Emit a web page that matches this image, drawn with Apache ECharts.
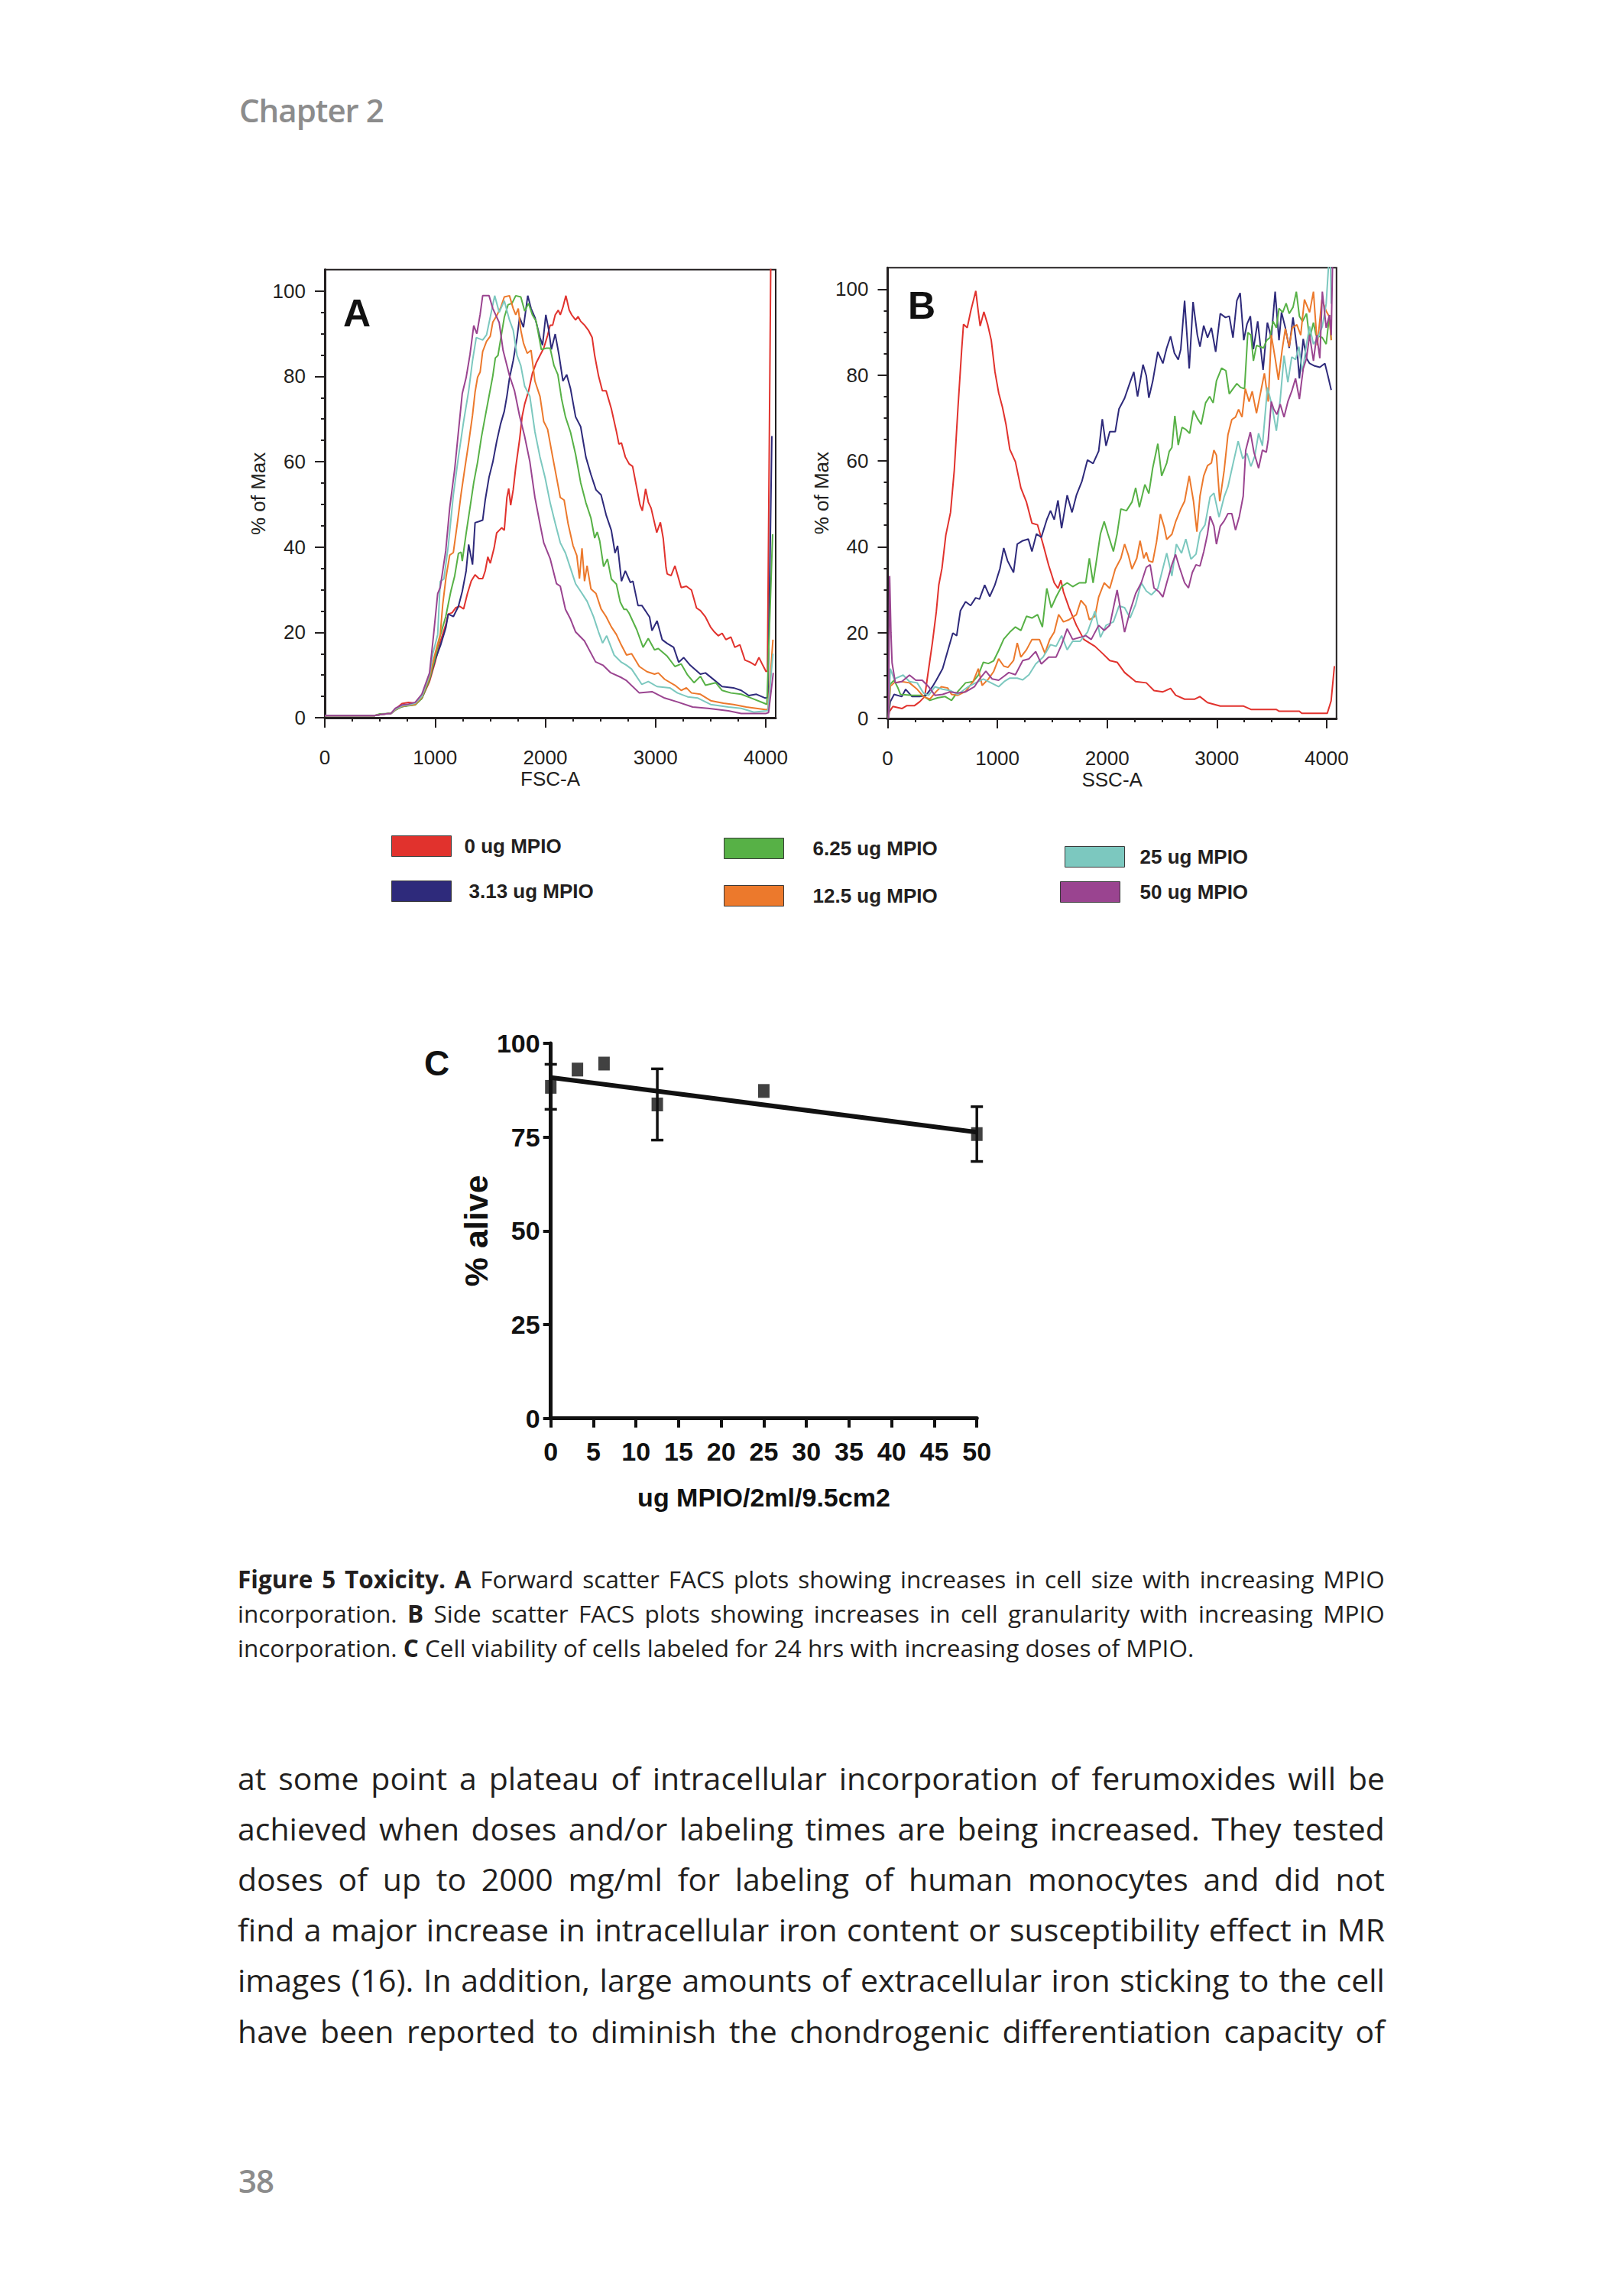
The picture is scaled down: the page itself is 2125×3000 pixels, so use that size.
<!DOCTYPE html>
<html>
<head>
<meta charset="utf-8">
<script src="https://cdn.jsdelivr.net/npm/echarts@6.0.0/dist/echarts.min.js"></script>
<style>
  html, body { margin:0; padding:0; background:#ffffff; }
  body { width:2125px; height:3000px; position:relative; overflow:hidden; }
  #chart { position:absolute; left:0; top:0; width:2125px; height:3000px; }
  .txt { position:absolute; font-family:'Open Sans','Noto Sans',sans-serif; color:#231f20; white-space:nowrap; line-height:1; }
  .just { display:flex; justify-content:space-between; align-items:baseline; }
  .just span { line-height:1; }
  .gray { color:#8c8c8c; font-weight:600; font-size:42px; letter-spacing:-1px; }
  .cap { font-size:31.5px; }
  .body { font-size:41px; }
  b { font-weight:700; }
</style>
</head>
<body>
<div id="chart"></div>
<div id="texts"></div>
<script>
// ---------------- DATA ----------------
const doseLabels = ['0 ug MPIO','3.13 ug MPIO','6.25 ug MPIO','12.5 ug MPIO','25 ug MPIO','50 ug MPIO'];

// Panel A: forward scatter (FSC-A) histograms, % of Max
const fsc0 = [[0,0.5],[250,0.5],[450,0.5],[520,0.8],[600,1.0],[640,2.0],[700,3.3],[760,3.6],[820,3.4],[880,4.5],[950,8.5],[1000,13],[1050,18],[1100,22],[1120,24.3],[1155,24.6],[1189,25.8],[1224,26.1],[1259,25.5],[1294,29.1],[1328,32],[1363,33.5],[1398,32.6],[1432,32.6],[1455,34.4],[1479,37.7],[1501,36.2],[1536,39.8],[1559,43.3],[1582,43.9],[1605,44.5],[1628,43.9],[1652,51.6],[1668,53.7],[1686,49.8],[1709,53.4],[1732,58.7],[1767,65.2],[1790,70.6],[1813,73.5],[1848,76.5],[1883,80.7],[1917,83.1],[1952,84.9],[1986,86.6],[2021,89.6],[2044,92],[2067,92],[2090,94.4],[2118,95.5],[2136,94.4],[2160,96.2],[2187,98.9],[2217,95.5],[2240,94.4],[2275,93.2],[2298,94],[2321,92.9],[2356,92],[2391,90.8],[2425,89.1],[2448,84.9],[2483,80.1],[2518,76.6],[2552,76.6],[2599,72.4],[2645,67.1],[2668,64.1],[2691,64.4],[2726,61.1],[2760,59.5],[2792,58.9],[2859,49.9],[2880,48.5],[2910,53.6],[2935,50.5],[2960,49.1],[3011,43.4],[3044,45.8],[3070,42],[3095,35.2],[3106,33.7],[3141,33.3],[3176,35.6],[3233,30.5],[3280,30.8],[3326,29.9],[3372,25.7],[3407,25.1],[3453,23.6],[3500,21.2],[3534,20.1],[3569,19.2],[3604,19.8],[3638,18.3],[3684,18.9],[3719,16.5],[3765,17.1],[3811,13.5],[3858,13.0],[3904,12.3],[3938,14.1],[3973,12.3],[4003,10.8],[4015,11],[4045,106]];
const fsc313 = [[0,0.5],[250,0.5],[450,0.5],[520,0.8],[600,1.0],[640,1.8],[700,2.6],[760,2.9],[820,3.1],[880,4.6],[950,9],[1000,13.5],[1050,17],[1097,21],[1120,24.3],[1166,23.7],[1212,26.1],[1247,29.6],[1282,34.4],[1305,40.6],[1340,35.9],[1363,45.7],[1398,46],[1432,46.3],[1455,51],[1490,56.4],[1524,59.9],[1559,64.7],[1594,68.8],[1628,71.8],[1652,75.4],[1675,79.5],[1709,83.7],[1744,89.1],[1767,93.8],[1802,91.5],[1841,98.9],[1871,95.9],[1906,93.8],[1952,89.1],[1975,87.3],[2005,94.4],[2032,90.8],[2055,86.3],[2090,89.9],[2125,84.9],[2160,78.9],[2194,80.4],[2229,77.1],[2275,70.5],[2321,68.2],[2368,61.1],[2414,57],[2460,53.4],[2506,52.2],[2552,47.5],[2599,43.9],[2633,38.6],[2656,40.3],[2691,32],[2726,34.4],[2772,31.7],[2795,32],[2841,26.3],[2876,26.3],[2946,23.6],[2968,20.4],[3014,22.7],[3060,18.3],[3106,17.4],[3164,16.5],[3210,13],[3256,14.1],[3314,12.3],[3407,10.2],[3453,10.5],[3534,8.8],[3604,7.3],[3707,7.0],[3777,6.4],[3846,5.2],[3915,5.5],[3996,4.6],[4020,4.8],[4055,66]];
const fsc625 = [[0,0.5],[250,0.5],[450,0.5],[500,0.9],[600,1.0],[640,1.8],[700,2.6],[760,2.8],[820,3.0],[880,4.5],[950,9],[1000,14],[1050,19.5],[1097,23.7],[1143,29.6],[1178,33.2],[1212,38.5],[1236,38.8],[1247,36.7],[1282,43.2],[1317,49.2],[1351,55.1],[1386,59.9],[1421,65.8],[1455,70.6],[1490,75.4],[1524,80.1],[1547,84.3],[1571,84.9],[1594,88.5],[1628,93.8],[1663,96.8],[1698,97.1],[1732,98.9],[1778,98.6],[1813,95.3],[1848,97.1],[1883,94.4],[1917,92.9],[1964,86.3],[2010,86.6],[2044,86.6],[2079,82.5],[2114,80.4],[2148,74.7],[2183,70.5],[2229,66.9],[2275,61.7],[2321,55.1],[2368,50.4],[2414,46.8],[2448,42.1],[2471,43.5],[2494,41.4],[2529,35.4],[2564,37.2],[2599,32.5],[2645,31.3],[2680,27.1],[2714,25.4],[2737,25.4],[2760,24.5],[2830,20.6],[2887,16.5],[2934,18.6],[2991,15.9],[3025,16.2],[3106,14.4],[3176,12.0],[3233,12.6],[3291,10.0],[3349,8.2],[3407,9.7],[3453,7.6],[3546,8.2],[3604,6.4],[3684,5.8],[3777,5.5],[3869,4.6],[3985,3.4],[4010,3.1],[4062,43]];
const fsc125 = [[0,0.5],[250,0.5],[450,0.5],[520,0.8],[600,1.0],[640,1.9],[700,2.7],[760,2.9],[820,3.1],[880,4.8],[950,9.5],[1000,15],[1047,19.5],[1070,26.6],[1100,33],[1133,38.1],[1166,38.7],[1201,45.3],[1236,52.4],[1270,58.4],[1305,64.4],[1340,70.9],[1363,76.3],[1386,79.8],[1409,81],[1432,85.8],[1467,88.2],[1501,89.4],[1524,92.7],[1559,94.2],[1594,96],[1628,98.6],[1675,98.9],[1709,95.9],[1732,94.4],[1755,95.9],[1778,90.8],[1802,87.8],[1836,85.4],[1871,86.1],[1906,78.9],[1952,75.3],[1986,69.4],[2021,67.6],[2067,61.1],[2102,56.3],[2136,51.6],[2171,51],[2206,45.6],[2252,40.3],[2286,38],[2310,32.6],[2333,39.7],[2356,32],[2379,35.6],[2414,30.2],[2460,29.1],[2506,25.5],[2552,23.7],[2599,21.3],[2645,19.5],[2690,17],[2737,14.7],[2783,15],[2853,12.0],[2922,10.8],[2991,10.2],[3025,10.5],[3083,9.0],[3176,7.6],[3233,6.4],[3280,7.0],[3326,5.8],[3407,5.5],[3500,4.0],[3615,3.4],[3707,3.1],[3823,2.5],[4003,1.9],[4020,2.0],[4065,18.3]];
const fsc25 = [[0,0.5],[250,0.5],[450,0.5],[520,0.8],[600,1.0],[640,2.0],[700,2.8],[760,3.0],[820,3.4],[880,5],[950,10],[980,15],[1024,19.5],[1047,31.9],[1080,32.5],[1120,40.3],[1166,52.2],[1212,61.1],[1259,69.4],[1305,76.6],[1340,83.7],[1374,89.1],[1432,88.5],[1467,89.7],[1501,93.9],[1541,98.9],[1582,95],[1628,97.7],[1675,93.2],[1709,90.8],[1744,84.9],[1778,82.5],[1813,77.7],[1860,75.3],[1906,67],[1952,61.1],[1998,56.3],[2044,50.4],[2090,45.6],[2136,41],[2183,38.6],[2229,35],[2275,31.4],[2321,29.6],[2379,27.3],[2437,23.7],[2483,20.1],[2520,17.5],[2557,19.2],[2624,14.7],[2690,13],[2737,12.3],[2783,11.4],[2876,7.8],[2934,8.5],[3014,7.3],[3129,7.0],[3199,5.8],[3291,4.9],[3384,4.6],[3500,3.1],[3661,2.5],[3777,2.2],[3892,1.3],[4003,1.6],[4020,1.7],[4065,15]];
const fsc50 = [[0,0.5],[250,0.5],[450,0.5],[520,0.8],[600,1.0],[640,2.2],[700,3.0],[760,3.2],[820,3.6],[880,5.5],[950,10.5],[987,19.5],[1024,29.1],[1047,30.5],[1097,39.1],[1133,49.2],[1178,58.2],[1212,67],[1247,76.0],[1282,79.7],[1317,85.1],[1351,91.9],[1379,90],[1409,94.5],[1432,98.9],[1462,98.9],[1490,98.9],[1524,95.9],[1582,92.6],[1617,86.1],[1675,80.2],[1721,76.6],[1767,70.7],[1813,65.9],[1860,60],[1906,51.6],[1952,45.4],[1986,41],[2044,37.3],[2102,31.4],[2136,30.8],[2183,25.4],[2229,23.1],[2275,20.1],[2355,18],[2456,13.1],[2523,12.3],[2590,10.6],[2691,9.4],[2737,8.7],[2853,5.8],[2968,6.1],[3083,4.6],[3199,3.7],[3337,2.5],[3476,2.2],[3661,1.6],[3777,1.0],[4003,1.0],[4025,1.2],[4068,10.5]];

// Panel B: side scatter (SSC-A) histograms, % of Max
const ssc0 = [[8,0],[14,1.5],[24,1.9],[48,2.8],[129,2.3],[176,3.0],[245,3.0],[292,3.9],[338,5.1],[361,9.3],[408,17.7],[443,24.8],[466,31.1],[495,35],[530,42.7],[573,48],[607,57.8],[641,72.5],[674,85.7],[691,91.8],[725,91],[759,95.1],[803,99.6],[826,94.7],[843,91.4],[877,94.7],[911,91.8],[944,88.1],[978,80.7],[1012,75.8],[1046,72.5],[1079,68.4],[1113,62.7],[1164,59.8],[1214,53.7],[1265,50.4],[1315,45.5],[1366,45.1],[1416,40.6],[1467,35.7],[1518,31.6],[1552,30.3],[1579,32.2],[1602,29.5],[1653,25.8],[1720,21.7],[1788,18.4],[1889,16.8],[1956,15.2],[2024,13.5],[2091,13.1],[2159,10.7],[2260,8.6],[2357,8.3],[2427,6.5],[2508,6.2],[2578,7.0],[2625,5.4],[2706,4.5],[2799,4.5],[2845,5.1],[2915,3.7],[3031,2.9],[3240,2.9],[3310,2.1],[3542,2.1],[3565,1.7],[3751,1.7],[3774,1.2],[4006,1.2],[4041,4.1],[4071,12.2]];
const ssc313 = [[8,0],[14,2],[24,3.9],[59,5.6],[129,5.1],[164,6.8],[222,5.1],[292,5.1],[350,5.4],[408,7.4],[443,8.9],[501,11.6],[547,15.7],[594,19.9],[629,19.3],[663,25.1],[710,27.2],[756,26.3],[802,28.1],[837,27.8],[884,31.1],[930,28.4],[977,31.1],[1023,34.9],[1058,39.7],[1093,36.7],[1147,34],[1181,40.6],[1231,41.4],[1282,41.8],[1315,38.9],[1356,43],[1400,42.2],[1450,46.3],[1484,48.4],[1518,46.3],[1552,50.8],[1585,44.3],[1636,52],[1680,48],[1720,52],[1771,55.3],[1821,60.2],[1872,59.4],[1923,62.3],[1956,69.7],[1990,63.5],[2024,66.8],[2074,66.8],[2108,72.1],[2159,74.6],[2209,78.3],[2243,80.7],[2277,75],[2327,82.4],[2357,79.8],[2380,74.7],[2415,78.5],[2462,85.4],[2508,82.7],[2543,86.3],[2578,89],[2613,85.1],[2648,83.6],[2671,86],[2706,97.3],[2748,81.5],[2783,97],[2822,89.3],[2846,86.6],[2880,91.5],[2915,88.7],[2950,91],[2989,85.4],[3031,94.3],[3078,93.4],[3113,93.7],[3147,88.7],[3182,97.3],[3212,99.1],[3245,88.1],[3275,91.9],[3305,93.7],[3333,86],[3372,92.5],[3421,81.2],[3460,92.2],[3496,88.7],[3531,99.4],[3566,88.1],[3589,94.6],[3624,91],[3659,86.3],[3694,93.4],[3729,86.3],[3752,79.2],[3787,88.4],[3817,83.9],[3845,82.7],[3891,82.1],[3938,81.8],[3984,82.7],[4012,79.8],[4042,76.5]];
const ssc625 = [[8,0],[14,3],[24,8.0],[59,8.9],[94,7.1],[117,5.6],[222,5.4],[315,5.4],[385,4.2],[454,4.8],[524,5.1],[582,4.2],[640,6.3],[710,8.3],[779,8.6],[826,10.1],[872,13.1],[918,12.8],[965,13.4],[1011,15.8],[1058,18.5],[1113,20.1],[1164,21.3],[1214,20.5],[1265,23.8],[1315,23.4],[1366,24.2],[1410,21.3],[1450,30.3],[1491,25.8],[1535,28.3],[1585,30.7],[1636,31.6],[1686,30.7],[1747,31.6],[1805,31.6],[1838,37.3],[1872,31.6],[1906,37.3],[1939,43],[1973,45.9],[2007,43],[2057,38.9],[2091,43],[2125,48.8],[2176,48.4],[2226,50.4],[2260,53.7],[2294,49.2],[2344,54.5],[2380,52.4],[2415,58.3],[2462,64],[2497,56.5],[2543,59.5],[2566,62.2],[2590,63.1],[2617,70.5],[2648,63.7],[2683,67.8],[2717,67.3],[2752,66.4],[2787,71.7],[2822,69.9],[2857,68.5],[2897,73.5],[2934,75],[2966,73.5],[2996,78.6],[3043,81.6],[3082,81],[3113,75.6],[3147,76.8],[3182,78],[3217,77.1],[3252,76.8],[3282,89.9],[3310,89.3],[3333,83.3],[3361,86.9],[3391,86.6],[3426,86.3],[3454,88.1],[3484,88.7],[3512,92.5],[3542,91],[3566,95.5],[3600,94.6],[3631,96.7],[3659,94.3],[3694,95.8],[3724,99.4],[3752,93.7],[3780,92.5],[3817,94.3],[3845,88.4],[3880,92.2],[3903,89.3],[3961,88.7],[3996,87.2],[4026,94],[4042,88.1]];
const ssc125 = [[8,0],[14,4],[24,7.5],[59,8.3],[129,8.6],[199,8.3],[269,6.8],[327,5.1],[385,4.5],[443,6.3],[489,7.4],[547,7.1],[582,5.6],[640,5.4],[710,6.3],[779,8.6],[826,11.6],[861,7.7],[918,9.2],[965,10.9],[1011,13.9],[1058,12.2],[1096,11.9],[1147,13.5],[1181,17.6],[1214,14.3],[1265,16],[1315,18.4],[1383,18.4],[1433,15.2],[1477,18.4],[1518,20.1],[1558,24.2],[1602,22.5],[1653,23],[1720,24.2],[1761,27.5],[1805,26.2],[1838,23],[1889,23.8],[1923,28.3],[1973,31.6],[2024,30.3],[2074,34.8],[2125,37.3],[2159,40.6],[2193,38.1],[2226,34.8],[2270,37.3],[2300,41.4],[2334,37.3],[2357,38.7],[2380,36.7],[2415,36.4],[2450,41.1],[2485,47.6],[2520,44.6],[2543,41.7],[2590,42.9],[2624,45.8],[2671,48.8],[2706,50.6],[2748,56.5],[2787,50.6],[2818,43.5],[2846,51.8],[2880,56.5],[2915,58.9],[2950,59.5],[2973,62.5],[2996,61.3],[3026,50.6],[3066,57.7],[3101,66.1],[3136,69.6],[3170,70.2],[3198,72],[3229,70.2],[3259,76.8],[3294,73.8],[3322,76.2],[3361,71.1],[3396,75.6],[3433,80.4],[3468,73.8],[3496,89.3],[3531,83.9],[3561,78.9],[3594,85.7],[3624,90.8],[3659,86.6],[3687,91],[3729,91.7],[3764,89.3],[3798,97.6],[3845,94.6],[3880,99.4],[3915,86.9],[3957,97.6],[3996,94.9],[4026,93.5],[4042,88.1]];
const ssc25 = [[8,0],[14,5],[24,11.6],[59,9.2],[141,10.1],[199,8.6],[269,8.3],[327,5.9],[373,5.4],[431,7.4],[501,6.8],[570,6.5],[640,5.6],[733,7.4],[802,8.3],[872,9.2],[942,8.3],[1011,7.4],[1062,8.6],[1113,9.4],[1181,9.4],[1231,9],[1288,10.2],[1349,12.7],[1416,14.3],[1484,17.2],[1535,16.8],[1585,19.3],[1636,16],[1686,18],[1754,18],[1821,20.1],[1889,25],[1939,18.9],[1990,21.7],[2057,22.5],[2108,26.2],[2159,25.8],[2209,23.4],[2260,26.6],[2311,31.6],[2357,29.7],[2403,28.8],[2462,30.3],[2508,35],[2543,38.5],[2590,33.2],[2631,40.6],[2678,38.5],[2717,41.8],[2764,37.1],[2810,38.3],[2846,43.3],[2892,45.1],[2938,51.6],[2973,52.5],[3020,46.9],[3066,51.6],[3101,54],[3147,59.3],[3194,64.6],[3236,60.5],[3275,61.7],[3310,58.7],[3345,61.1],[3380,66.4],[3415,63.5],[3461,77.1],[3501,73],[3542,67],[3577,74.2],[3612,84.5],[3647,78.3],[3682,84.2],[3717,83.6],[3747,86.6],[3780,80.7],[3817,87.2],[3845,91.3],[3880,87.2],[3915,88.4],[3961,91.3],[3996,96.6],[4019,106],[4035,106],[4042,96.6]];
const ssc50 = [[8,0],[18,33.2],[30,20],[40,13],[70,8.3],[129,8.6],[199,10.1],[257,8.9],[315,8.9],[373,7.4],[431,5.4],[501,5.6],[570,6.2],[640,5.9],[710,6.2],[791,7.4],[837,9.2],[895,11],[953,9.2],[1011,8.9],[1058,9.8],[1104,10.7],[1164,10.2],[1231,13.5],[1288,13.9],[1349,15.6],[1400,12.7],[1467,14.3],[1535,14.3],[1585,17.2],[1636,20.9],[1686,18.4],[1754,18.9],[1805,19.3],[1855,18.4],[1923,21.7],[1973,20.5],[2024,21.7],[2091,29.9],[2125,25],[2159,20.1],[2209,25],[2260,29.1],[2311,31.6],[2357,35.2],[2392,35.8],[2427,30.4],[2473,29.5],[2508,28.3],[2543,31.6],[2590,35.8],[2624,38.2],[2659,35.2],[2706,31.6],[2741,30.4],[2776,34],[2810,35.8],[2846,35.5],[2880,38.8],[2915,43],[2938,47.1],[2973,44.8],[2996,40.6],[3031,44.8],[3066,46],[3101,47.7],[3136,47.7],[3170,43.9],[3205,47.1],[3240,51.8],[3263,62.5],[3305,66.7],[3338,62],[3380,58.3],[3415,62.5],[3450,62],[3468,64.9],[3496,73.8],[3519,72],[3547,70.8],[3577,73.2],[3612,70.2],[3647,73.8],[3682,76.2],[3717,79.2],[3752,74.4],[3787,81.5],[3817,83.9],[3845,89.3],[3880,83.3],[3910,89.3],[3938,83.9],[3961,99.4],[3996,91],[4026,94],[4042,89.3],[4054,106]];

// Panel C: viability
const cDoses = [0, 3.13, 6.25, 12.5, 25, 50];
const cAlive = [88.4, 93.0, 94.6, 83.7, 87.3, 75.8];
const cErr   = [6.0, 0, 0, 9.5, 0, 7.3];
const cFit   = [[0, 90.9], [50, 76.3]];

// Tick values
const facsXMajor = [0, 1000, 2000, 3000, 4000];
const facsXMinor = [250, 500, 750, 1250, 1500, 1750, 2250, 2500, 2750, 3250, 3500, 3750];
const facsYMajor = [0, 20, 40, 60, 80, 100];
const facsYMinor = [5, 10, 15, 25, 30, 35, 45, 50, 55, 65, 70, 75, 85, 90, 95];

// ---------------- STYLE / LAYOUT ----------------
const colors = ['#E1322D', '#2E2A7B', '#57B146', '#EC792C', '#7CC8BF', '#9A4490'];
const INK = '#231f20';
const SANS = "'Liberation Sans', Arial, Helvetica, sans-serif";
const fscSets = [fsc0, fsc313, fsc625, fsc125, fsc25, fsc50];
const sscSets = [ssc0, ssc313, ssc625, ssc125, ssc25, ssc50];
const legendLayout = [[512,1093,12],[512,1152,18],[947,1096,33],[947,1158,33],[1393,1107,15],[1387,1153,21]];
const plain = v => String(v);

function facsAxes(gridIndex, name) {
  const xs = [
    { gridIndex, type:'value', min:0, max:4090, position:'bottom',
      axisLine:{ show:true, onZero:false, lineStyle:{ color:INK, width:3 } },
      axisTick:{ show:true, customValues:facsXMajor, length:13, lineStyle:{ color:INK, width:2 } },
      axisLabel:{ show:true, customValues:facsXMajor, formatter:plain, margin:39, fontSize:26, color:INK, fontFamily:SANS },
      splitLine:{ show:false },
      name, nameLocation:'middle', nameGap:67,
      nameTextStyle:{ fontSize:26, color:INK, fontFamily:SANS } },
    { gridIndex, type:'value', min:0, max:4090, position:'bottom',
      axisLine:{ show:false },
      axisTick:{ show:true, customValues:facsXMinor, length:5, lineStyle:{ color:INK, width:2 } },
      axisLabel:{ show:false }, splitLine:{ show:false } }
  ];
  const ys = [
    { gridIndex, type:'value', min:0, max:105, position:'left',
      axisLine:{ show:true, onZero:false, lineStyle:{ color:INK, width:3 } },
      axisTick:{ show:true, customValues:facsYMajor, length:13, lineStyle:{ color:INK, width:2 } },
      axisLabel:{ show:true, customValues:facsYMajor, formatter:plain, margin:25, fontSize:26, color:INK, fontFamily:SANS },
      splitLine:{ show:false },
      name:'% of Max', nameLocation:'middle', nameGap:74,
      nameTextStyle:{ fontSize:26, color:INK, fontFamily:SANS } },
    { gridIndex, type:'value', min:0, max:105, position:'left',
      axisLine:{ show:false },
      axisTick:{ show:true, customValues:facsYMinor, length:5, lineStyle:{ color:INK, width:2 } },
      axisLabel:{ show:false }, splitLine:{ show:false } }
  ];
  return { xs, ys };
}

const axA = facsAxes(0, 'FSC-A');
const axB = facsAxes(1, 'SSC-A');

const xAxisC = { gridIndex:2, type:'value', min:0, max:50, interval:5, position:'bottom',
  axisLine:{ show:true, onZero:false, lineStyle:{ color:'#111', width:5 } },
  axisTick:{ show:true, length:12, lineStyle:{ color:'#111', width:4 } },
  axisLabel:{ margin:26, fontSize:34, fontWeight:'bold', color:'#111', fontFamily:SANS, formatter:plain },
  splitLine:{ show:false },
  name:'ug MPIO/2ml/9.5cm2', nameLocation:'middle', nameGap:86,
  nameTextStyle:{ fontSize:34, fontWeight:'bold', color:'#111', fontFamily:SANS } };
const yAxisC = { gridIndex:2, type:'value', min:0, max:100, interval:25, position:'left',
  axisLine:{ show:true, onZero:false, lineStyle:{ color:'#111', width:5 } },
  axisTick:{ show:true, length:10, lineStyle:{ color:'#111', width:4 } },
  axisLabel:{ margin:14, fontSize:34, fontWeight:'bold', color:'#111', fontFamily:SANS, formatter:plain },
  splitLine:{ show:false },
  name:'% alive', nameLocation:'middle', nameGap:76,
  nameTextStyle:{ fontSize:43, fontWeight:'bold', color:'#111', fontFamily:SANS } };

const series = [];
fscSets.forEach((d, i) => series.push({
  type:'line', name:doseLabels[i], xAxisIndex:0, yAxisIndex:0, data:d,
  showSymbol:false, symbol:'none', clip:true, silent:true,
  lineStyle:{ color:colors[i], width:2 }, itemStyle:{ color:colors[i] }
}));
sscSets.forEach((d, i) => series.push({
  type:'line', name:doseLabels[i], xAxisIndex:2, yAxisIndex:2, data:d,
  showSymbol:false, symbol:'none', clip:true, silent:true,
  lineStyle:{ color:colors[i], width:2 }, itemStyle:{ color:colors[i] }
}));
series.push({
  type:'line', name:'fit', xAxisIndex:4, yAxisIndex:4, data:cFit,
  showSymbol:false, symbol:'none', clip:false, silent:true,
  lineStyle:{ color:'#111', width:6 }
});
series.push({
  type:'custom', name:'sem', xAxisIndex:4, yAxisIndex:4, silent:true,
  data: cDoses.map((x, i) => [x, cAlive[i] - cErr[i], cAlive[i] + cErr[i]]).filter((r, i) => cErr[i] > 0),
  encode:{ x:0, y:[1,2] },
  renderItem: (params, api) => {
    const x = api.value(0);
    const top = api.coord([x, api.value(2)]);
    const bot = api.coord([x, api.value(1)]);
    const w = 8;
    const st = { stroke:'#111', lineWidth:3.5 };
    return { type:'group', children:[
      { type:'line', shape:{ x1:top[0], y1:top[1], x2:bot[0], y2:bot[1] }, style:st },
      { type:'line', shape:{ x1:top[0]-w, y1:top[1], x2:top[0]+w, y2:top[1] }, style:st },
      { type:'line', shape:{ x1:bot[0]-w, y1:bot[1], x2:bot[0]+w, y2:bot[1] }, style:st }
    ]};
  }
});
series.push({
  type:'scatter', name:'alive', xAxisIndex:4, yAxisIndex:4, clip:false, silent:true,
  data: cDoses.map((x, i) => [x, cAlive[i]]),
  symbol:'rect', symbolSize:[15, 18], itemStyle:{ color:'#111' }
});

const option = {
  animation:false,
  backgroundColor:'#ffffff',
  textStyle:{ fontFamily:SANS },
  title:[
    { text:'A', left:449, top:385, padding:0, textStyle:{ fontSize:50, fontWeight:'bold', color:'#111', fontFamily:SANS } },
    { text:'B', left:1188, top:375, padding:0, textStyle:{ fontSize:50, fontWeight:'bold', color:'#111', fontFamily:SANS } },
    { text:'C', left:555, top:1368, padding:0, textStyle:{ fontSize:46, fontWeight:'bold', color:'#111', fontFamily:SANS } }
  ],
  grid:[
    { left:425, top:352.8, width:590, height:586.2, show:true, borderColor:INK, borderWidth:2, backgroundColor:'transparent', containLabel:false, outerBoundsMode:'none' },
    { left:1161.5, top:350.2, width:587.3, height:589.8, show:true, borderColor:INK, borderWidth:2, backgroundColor:'transparent', containLabel:false, outerBoundsMode:'none' },
    { left:720.7, top:1365, width:557.5, height:490.7, show:false, containLabel:false, outerBoundsMode:'none' }
  ],
  xAxis:[ ...axA.xs, ...axB.xs, xAxisC ],
  yAxis:[ ...axA.ys, ...axB.ys, yAxisC ],
  legend: legendLayout.map((p, i) => ({
    data:[doseLabels[i]], left:p[0], top:p[1], padding:0, orient:'horizontal',
    itemWidth:78, itemHeight:27, icon:'rect', selectedMode:false,
    itemStyle:{ borderColor:'#3a3a3a', borderWidth:1 },
    textStyle:{ fontSize:26, fontWeight:'bold', color:INK, fontFamily:SANS, padding:[0,0,0,p[2]] }
  })),
  series
};

const chart = echarts.init(document.getElementById('chart'), null, { renderer:'svg', width:2125, height:3000 });
chart.setOption(option);

// ---------------- PAGE TEXT ----------------
const texts = document.getElementById('texts');
function addDiv(cls, left, top, width, html) {
  const d = document.createElement('div');
  d.className = 'txt ' + cls;
  d.style.left = left + 'px';
  d.style.top = top + 'px';
  if (width) d.style.width = width + 'px';
  d.innerHTML = html;
  texts.appendChild(d);
  return d;
}
function justified(cls, left, top, width, line) {
  let bold = false;
  const parts = [];
  line.split(' ').forEach(w => {
    let word = w;
    let startB = false, endB = false;
    if (word.startsWith('**')) { startB = true; word = word.slice(2); }
    if (word.endsWith('**')) { endB = true; word = word.slice(0, -2); }
    if (startB) bold = true;
    parts.push(bold ? '<span><b>' + word + '</b></span>' : '<span>' + word + '</span>');
    if (endB) bold = false;
  });
  return addDiv(cls + ' just', left, top, width, parts.join(''));
}

addDiv('gray', 313, 122.7, 0, 'Chapter 2');
addDiv('gray', 312, 2831.7, 0, '38');

const capF = 31.5, bodyF = 41;
const capTop = b => b - 0.888 * capF;
const bodyTop = b => b - 0.888 * bodyF;
justified('cap', 311, capTop(2078), 1501, '**Figure 5 Toxicity. A** Forward scatter FACS plots showing increases in cell size with increasing MPIO');
justified('cap', 311, capTop(2123), 1501, 'incorporation. **B** Side scatter FACS plots showing increases in cell granularity with increasing MPIO');
addDiv('cap', 311, capTop(2167.5), 0, 'incorporation. <b>C</b> Cell viability of cells labeled for 24 hrs with increasing doses of MPIO.');

const bodyLines = [
  'at some point a plateau of intracellular incorporation of ferumoxides will be',
  'achieved when doses and/or labeling times are being increased. They tested',
  'doses of up to 2000 mg/ml for labeling of human monocytes and did not',
  'find a major increase in intracellular iron content or susceptibility effect in MR',
  'images (16). In addition, large amounts of extracellular iron sticking to the cell',
  'have been reported to diminish the chondrogenic differentiation capacity of'
];
bodyLines.forEach((l, i) => justified('body', 311, bodyTop(2342 + i * 66.2), 1501, l));
</script>
</body>
</html>
